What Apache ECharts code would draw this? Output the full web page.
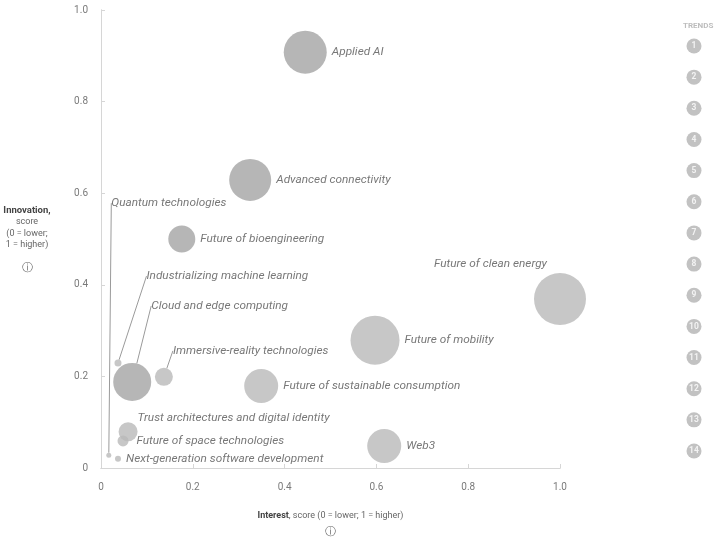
<!DOCTYPE html>
<html>
<head>
<meta charset="utf-8">
<script src="https://cdn.jsdelivr.net/npm/echarts@6/dist/echarts.min.js"></script>
<style>
html,body{margin:0;padding:0;background:#fff;}
#chart{width:714px;height:539px;}
</style>
</head>
<body>
<div id="chart"></div>
<script>
// ---- data ----
const trendNames = ['Applied AI','Advanced connectivity','Future of bioengineering','Quantum technologies','Industrializing machine learning','Cloud and edge computing','Immersive-reality technologies','Future of sustainable consumption','Trust architectures and digital identity','Future of space technologies','Next-generation software development','Future of mobility','Future of clean energy','Web3'];
const interest   = [0.445,0.325,0.176,0.017,0.037,0.068,0.137,0.349,0.059,0.048,0.037,0.597,1.0,0.617];
const innovation = [0.908,0.629,0.50,0.028,0.229,0.188,0.199,0.179,0.079,0.059,0.02,0.279,0.369,0.048];
const bubbleSize = [43,42,27,5,7,38,18,34,19,11,6,49,52,34];
const shade      = ['dark','dark','dark','light','light','dark','light','light','light','light','light','light','light','light'];
const xTicks = [0,0.2,0.4,0.6,0.8,1.0];
const yTicks = [0,0.2,0.4,0.6,0.8,1.0];
const trendNumbers = ['1','2','3','4','5','6','7','8','9','10','11','12','13','14'];

// ---- styles ----
const shadeColor = {dark:'#a4a4a4', light:'#b9b9b9'};
const withLine = {
  'Quantum technologies':true,
  'Industrializing machine learning':true,
  'Cloud and edge computing':true,
  'Immersive-reality technologies':true
};
const labelMoves = { // label offsets (px)
  'Quantum technologies':[-5,-252],
  'Industrializing machine learning':[20,-87],
  'Cloud and edge computing':[-5,-76],
  'Immersive-reality technologies':[-5,-26],
  'Trust architectures and digital identity':[-5,-14],
  'Future of space technologies':[3,0],
  'Future of clean energy':[-157,-35]
};
const FONT = 'Roboto, "Noto Sans", sans-serif';

const chart = echarts.init(document.getElementById('chart'));

const bubbleData = trendNames.map((n,i)=>{
  const item = {
    name:n,
    value:[interest[i], innovation[i], bubbleSize[i]],
    itemStyle:{color:shadeColor[shade[i]]}
  };
  if (!withLine[n]) item.labelLine = {show:false};
  return item;
});

const fmt = v => v===0 ? '0' : v.toFixed(1);

chart.setOption({
  animation:false,
  textStyle:{fontFamily:FONT},
  title:{
    text:'TRENDS', left:678, top:17,
    textStyle:{fontSize:8, fontWeight:'bold', color:'#bdbdbd', fontFamily:FONT}
  },
  grid:[
    {left:101, right:154, top:10, bottom:71, show:false, outerBoundsMode:'none', containLabel:false},
    {left:686, width:16, top:46, height:405, show:false, outerBoundsMode:'none', containLabel:false}
  ],
  xAxis:[
    {
      type:'value', gridIndex:0, min:0, max:1, interval:0.2,
      axisLine:{show:true, lineStyle:{color:'#d6d6d6', width:1}},
      axisTick:{show:true, inside:true, length:4, lineStyle:{color:'#d6d6d6'}},
      splitLine:{show:false},
      axisLabel:{color:'#7a7a7a', fontSize:10, margin:14, formatter:fmt, fontFamily:FONT},
      name:'{b|Interest}, score (0 = lower; 1 = higher)\n{i|ⓘ}',
      nameLocation:'middle', nameGap:40,
      nameTextStyle:{
        color:'#666', fontSize:9, lineHeight:16, align:'center', fontFamily:FONT,
        rich:{b:{fontWeight:'bold', color:'#444', fontSize:9, fontFamily:FONT}, i:{fontSize:11, color:'#666', fontFamily:'DejaVu Sans'}}
      },
      z:5
    },
    {
      type:'value', gridIndex:0, position:'top', min:0, max:1,
      axisLine:{show:true, lineStyle:{color:'#d6d6d6'}},
      axisTick:{show:false}, axisLabel:{show:false}, splitLine:{show:false}, z:5
    },
    {type:'value', gridIndex:1, min:-1, max:1, show:false}
  ],
  yAxis:[
    {
      type:'value', gridIndex:0, min:0, max:1, interval:0.2,
      axisLine:{show:true, lineStyle:{color:'#d6d6d6', width:1}},
      axisTick:{show:true, inside:true, length:4, lineStyle:{color:'#d6d6d6'}},
      splitLine:{show:false},
      axisLabel:{color:'#7a7a7a', fontSize:10, margin:13, formatter:fmt, fontFamily:FONT},
      name:'{b|Innovation,}\nscore\n(0 = lower;\n1 = higher)\n\n{i|ⓘ}',
      nameLocation:'middle', nameRotate:0, nameGap:74,
      nameTextStyle:{
        color:'#666', fontSize:9, lineHeight:11.5, align:'center', verticalAlign:'middle', fontFamily:FONT,
        rich:{b:{fontWeight:'bold', color:'#444', fontSize:9.5, fontFamily:FONT}, i:{fontSize:11, color:'#666', fontFamily:'DejaVu Sans'}}
      },
      z:5
    },
    {
      type:'value', gridIndex:0, position:'right', min:0, max:1,
      axisLine:{show:true, lineStyle:{color:'#d6d6d6'}},
      axisTick:{show:false}, axisLabel:{show:false}, splitLine:{show:false}, z:5
    },
    {
      type:'category', gridIndex:1, data:trendNumbers, inverse:true, boundaryGap:false, show:false
    }
  ],
  series:[
    {
      type:'scatter', xAxisIndex:0, yAxisIndex:0,
      data:bubbleData,
      symbolSize: v => v[2],
      label:{
        show:true, position:'right', distance:5,
        formatter:p=>p.name,
        color:'#555', fontSize:11.8, fontStyle:'italic', fontFamily:FONT
      },
      labelLine:{show:true, lineStyle:{color:'#9a9a9a', width:1}},
      labelLayout:function(p){
        const m = labelMoves[trendNames[p.dataIndex]];
        return m ? {dx:m[0], dy:m[1]} : {};
      },
      emphasis:{disabled:true},
      z:2
    },
    {
      type:'scatter', xAxisIndex:2, yAxisIndex:2,
      data:trendNumbers.map(t=>[0,t]),
      symbolSize:15,
      itemStyle:{color:'#b3b3b3'},
      label:{show:true, position:'inside', formatter:p=>p.value[1], color:'#fff', fontSize:8.5, fontWeight:'bold', fontFamily:FONT},
      emphasis:{disabled:true}
    }
  ]
});
</script>
</body>
</html>
